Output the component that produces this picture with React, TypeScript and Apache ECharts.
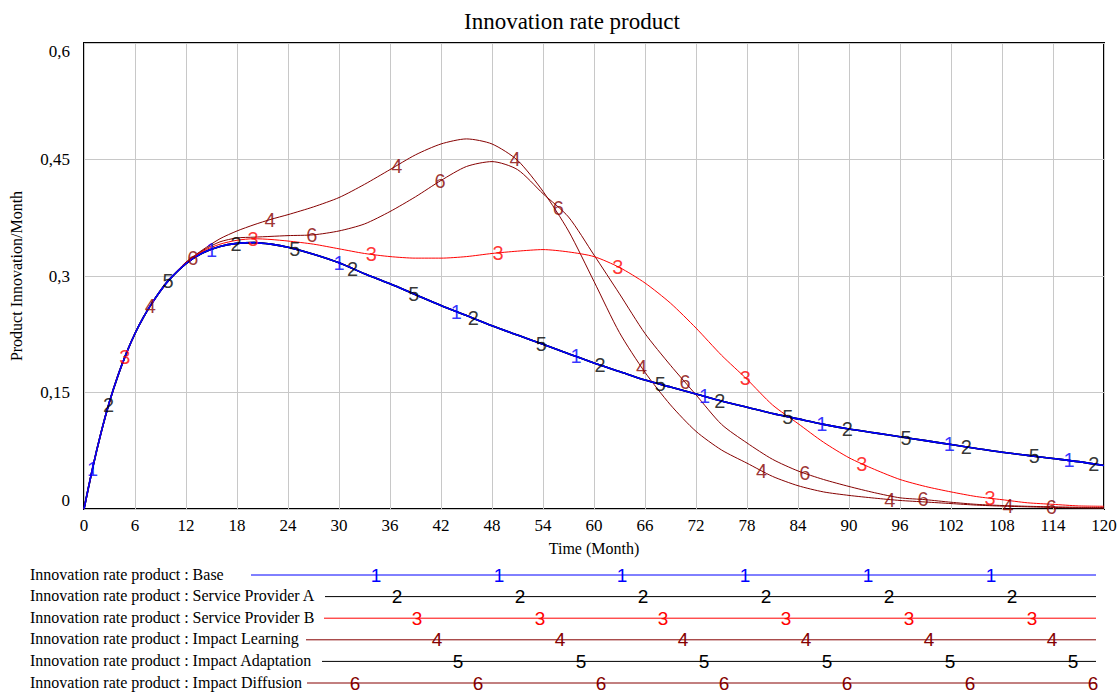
import React, { useEffect, useRef } from "react";
import * as echarts from "echarts";

const months = [0, 1, 2, 3, 4, 5, 6, 7, 8, 9, 10, 12, 14, 16, 18, 20, 22, 24, 27, 30, 33, 36, 39, 42, 45, 48, 51, 54, 57, 60, 63, 66, 69, 72, 75, 78, 81, 84, 87, 90, 93, 96, 99, 102, 105, 108, 111, 114, 117, 120];

const base = [0, 0.052, 0.098, 0.138, 0.172, 0.201, 0.226, 0.247, 0.265, 0.281, 0.295,
  0.316, 0.33, 0.338, 0.342, 0.343, 0.341, 0.337,
  0.328, 0.317, 0.303, 0.29, 0.276, 0.262, 0.249, 0.236, 0.224, 0.212, 0.2, 0.188, 0.177, 0.166, 0.157, 0.148, 0.139, 0.131, 0.123, 0.116, 0.109, 0.103, 0.098, 0.093, 0.088, 0.083, 0.078, 0.073, 0.069, 0.065, 0.061, 0.056];

const serviceProviderA = [0, 0.052, 0.098, 0.138, 0.172, 0.201, 0.226, 0.247, 0.265, 0.281, 0.295,
  0.316, 0.33, 0.338, 0.342, 0.343, 0.341, 0.337,
  0.328, 0.317, 0.303, 0.29, 0.276, 0.262, 0.249, 0.236, 0.224, 0.212, 0.2, 0.188, 0.177, 0.166, 0.157, 0.148, 0.139, 0.131, 0.123, 0.116, 0.109, 0.103, 0.098, 0.093, 0.088, 0.083, 0.078, 0.073, 0.069, 0.065, 0.061, 0.056];

const serviceProviderB = [0, 0.052, 0.098, 0.138, 0.172, 0.201, 0.226, 0.247, 0.265, 0.281, 0.295,
  0.317, 0.332, 0.341, 0.346, 0.348, 0.347, 0.345,
  0.341, 0.335, 0.329, 0.325, 0.323, 0.323, 0.325, 0.329, 0.332, 0.334, 0.331, 0.325, 0.311, 0.291, 0.265, 0.233, 0.198, 0.167, 0.134, 0.11, 0.086, 0.066, 0.051, 0.038, 0.029, 0.022, 0.016, 0.012, 0.008, 0.006, 0.004, 0.0035];

const impactLearning = [0, 0.052, 0.098, 0.138, 0.172, 0.201, 0.226, 0.247, 0.265, 0.281, 0.295,
  0.318, 0.334, 0.348, 0.358, 0.366, 0.373, 0.379,
  0.389, 0.401, 0.418, 0.437, 0.456, 0.47, 0.4765, 0.47, 0.449, 0.409, 0.358, 0.293, 0.227, 0.176, 0.134, 0.1, 0.076, 0.059, 0.042, 0.03, 0.022, 0.0175, 0.014, 0.011, 0.009, 0.007, 0.005, 0.0037, 0.0028, 0.002, 0.0015, 0.001];

const impactAdaptation = [0, 0.052, 0.098, 0.138, 0.172, 0.201, 0.226, 0.247, 0.265, 0.281, 0.295,
  0.316, 0.33, 0.338, 0.342, 0.343, 0.341, 0.337,
  0.328, 0.317, 0.303, 0.29, 0.276, 0.262, 0.249, 0.236, 0.224, 0.212, 0.2, 0.188, 0.177, 0.166, 0.157, 0.148, 0.139, 0.131, 0.123, 0.116, 0.109, 0.103, 0.098, 0.093, 0.088, 0.083, 0.078, 0.073, 0.069, 0.065, 0.061, 0.056];

const impactDiffusion = [0, 0.052, 0.098, 0.138, 0.172, 0.201, 0.226, 0.247, 0.265, 0.281, 0.295,
  0.317, 0.333, 0.344, 0.349, 0.35, 0.351, 0.352,
  0.353, 0.358, 0.367, 0.383, 0.402, 0.423, 0.441, 0.4473, 0.437, 0.406, 0.376, 0.327, 0.277, 0.226, 0.185, 0.147, 0.109, 0.085, 0.064, 0.049, 0.038, 0.029, 0.021, 0.0144, 0.012, 0.0087, 0.006, 0.0045, 0.0035, 0.0028, 0.0022, 0.002];

// times at which the numbered markers sit on each curve
const markers1 = [1, 15, 30, 43.8, 57.9, 73, 86.8, 101.8, 115.9];
const markers2 = [2.9, 17.9, 31.6, 45.8, 60.7, 74.8, 89.8, 103.8, 118.8];
const markers3 = [4.8, 19.9, 33.8, 48.7, 62.8, 77.8, 91.5, 106.6];
const markers4 = [7.8, 21.9, 36.8, 50.7, 65.6, 79.7, 94.8, 108.7];
const markers5 = [9.9, 24.8, 38.8, 53.8, 67.8, 82.8, 96.7, 111.8];
const markers6 = [12.8, 26.8, 41.9, 55.8, 70.7, 84.8, 98.7, 113.8];

const seriesNames = [
  "Innovation rate product : Base",
  "Innovation rate product : Service Provider A",
  "Innovation rate product : Service Provider B",
  "Innovation rate product : Impact Learning",
  "Innovation rate product : Impact Adaptation",
  "Innovation rate product : Impact Diffusion",
];

const xTicks = [0, 6, 12, 18, 24, 30, 36, 42, 48, 54, 60, 66, 72, 78, 84, 90, 96, 102, 108, 114, 120];
const yTickLabels = ["0", "0,15", "0,3", "0,45", "0,6"];

const SERIF = "Liberation Serif, Times New Roman, serif";
const SANS = "Liberation Sans, Arial, sans-serif";

function interp(xs: number[], ys: number[], t: number): number {
  for (let i = 0; i < xs.length - 1; i++) {
    if (t >= xs[i] && t <= xs[i + 1]) {
      const f = (t - xs[i]) / (xs[i + 1] - xs[i]);
      return ys[i] + f * (ys[i + 1] - ys[i]);
    }
  }
  return ys[ys.length - 1];
}

export default function App() {
  const ref = useRef<HTMLDivElement>(null);
  useEffect(() => {
    document.body.style.margin = "0";
    const chart = echarts.init(ref.current!, null, { renderer: "svg" });

    const defs = [
      { name: seriesNames[0], data: base, marks: markers1, color: "#0000ff", label: "1", width: 1.6, z: 6 },
      { name: seriesNames[1], data: serviceProviderA, marks: markers2, color: "#000000", label: "2", width: 1.6, z: 1 },
      { name: seriesNames[2], data: serviceProviderB, marks: markers3, color: "#ff0000", label: "3", width: 1, z: 5 },
      { name: seriesNames[3], data: impactLearning, marks: markers4, color: "#850000", label: "4", width: 1, z: 4 },
      { name: seriesNames[4], data: impactAdaptation, marks: markers5, color: "#000000", label: "5", width: 1.6, z: 2 },
      { name: seriesNames[5], data: impactDiffusion, marks: markers6, color: "#850000", label: "6", width: 1, z: 3 },
    ];

    const series: any[] = [];
    defs.forEach((d) => {
      series.push({
        type: "line",
        name: d.name,
        data: months.map((m, i) => [m, d.data[i]]),
        showSymbol: false,
        symbol: "none",
        smooth: 0.25,
        lineStyle: { color: d.color, width: d.width },
        z: d.z,
        silent: true,
      });
    });
    defs.forEach((d) => {
      series.push({
        type: "scatter",
        name: d.name + " markers",
        data: d.marks.map((t) => [t, interp(months, d.data, t)]),
        symbol: "circle",
        symbolSize: 1,
        itemStyle: { color: "rgba(0,0,0,0)" },
        label: {
          show: true,
          position: "inside",
          formatter: d.label,
          color: d.color,
          fontSize: 20,
          fontFamily: SANS,
        },
        z: 10 + d.z,
        silent: true,
      });
    });

    // Legend rows (drawn as graphic)
    const rowY = [575, 596.6, 618.2, 639.8, 661.4, 683];
    const lineStart = [251, 325, 324, 306, 322, 307];
    const firstMark = [376, 397, 417, 437, 458, 355];
    const lineEnd = 1096;
    const graphics: any[] = [];
    defs.forEach((d, i) => {
      graphics.push({
        type: "text",
        left: 30,
        top: rowY[i] - 9,
        style: { text: d.name, fill: "#000", font: `16px ${SERIF}` },
      });
      graphics.push({
        type: "line",
        shape: { x1: lineStart[i], y1: rowY[i], x2: lineEnd, y2: rowY[i] },
        style: { stroke: d.color, lineWidth: 1 },
      });
      for (let x = firstMark[i]; x <= lineEnd + 2; x += 123) {
        graphics.push({
          type: "text",
          x,
          y: rowY[i],
          style: {
            text: d.label,
            fill: d.color,
            font: `19px ${SANS}`,
            align: "center",
            verticalAlign: "middle",
          },
        });
      }
    });

    chart.setOption({
      animation: false,
      backgroundColor: "#ffffff",
      title: {
        text: "Innovation rate product",
        left: 459,
        top: 5,
        textStyle: { fontFamily: SERIF, fontWeight: "normal", fontSize: 23, color: "#000" },
      },
      grid: {
        left: 84,
        right: 16,
        top: 43,
        bottom: 186,
        containLabel: false,
        outerBoundsMode: "none",
        show: true,
        borderColor: "#000",
        borderWidth: 2,
        backgroundColor: "transparent",
      },
      xAxis: {
        type: "value",
        min: 0,
        max: 120,
        interval: 6,
        name: "Time (Month)",
        nameLocation: "middle",
        nameGap: 31,
        nameTextStyle: { fontFamily: SERIF, fontSize: 16, color: "#000" },
        axisLine: { show: false },
        axisTick: { show: false },
        axisLabel: {
          margin: 8,
          fontFamily: SERIF,
          fontSize: 17,
          color: "#000",
          formatter: (v: number) => (xTicks.includes(v) ? String(v) : ""),
        },
        splitLine: { show: true, lineStyle: { color: "#c8c8c8", width: 1 } },
      },
      yAxis: {
        type: "value",
        min: 0,
        max: 0.6,
        interval: 0.15,
        name: "Product Innovation/Month",
        nameLocation: "middle",
        nameGap: 60,
        nameTextStyle: { fontFamily: SERIF, fontSize: 16, color: "#000" },
        axisLine: { show: false },
        axisTick: { show: false },
        axisLabel: {
          margin: 14,
          fontFamily: SERIF,
          fontSize: 17,
          color: "#000",
          verticalAlignMinLabel: "bottom",
          verticalAlignMaxLabel: "top",
          formatter: (v: number) => yTickLabels[Math.round(v / 0.15)] ?? "",
        },
        splitLine: { show: true, lineStyle: { color: "#c8c8c8", width: 1 } },
      },
      series,
      graphic: graphics,
    });
    return () => chart.dispose();
  }, []);
  return <div ref={ref} style={{ width: 1120, height: 695 }} />;
}
